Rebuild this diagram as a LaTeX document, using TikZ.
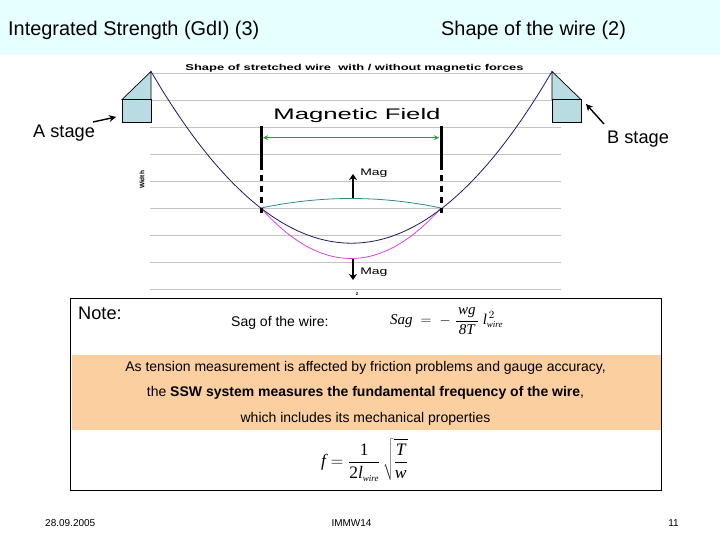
\documentclass[tikz,border=0pt]{standalone}
\usepackage{fontspec}
\setmainfont{Liberation Sans}
\newfontfamily\eqnfont{Liberation Serif}
\usetikzlibrary{arrows.meta,positioning,calc}
\definecolor{headbg}{HTML}{E6FFFF}
\definecolor{stagefill}{HTML}{B9DCE2}
\definecolor{bandbg}{HTML}{FBCF9F}
\definecolor{gridgray}{HTML}{C4C4C4}
\definecolor{wireblue}{HTML}{1F1A66}
\definecolor{wireteal}{HTML}{2E8B8B}
\definecolor{wirepink}{HTML}{E040E0}
\definecolor{fieldgreen}{HTML}{2CA02C}
\newcommand{\eqv}[1]{\hbox{\eqnfont\itshape #1}}
\newcommand{\eqr}[1]{\hbox{\eqnfont #1}}
\newcommand{\eqs}[1]{\hbox{\fontsize{9}{10}\selectfont\eqnfont\itshape #1}}
\tikzset{
  titletext/.style={font=\fontsize{19.9}{22}\selectfont, inner sep=0pt},
  slidetext/.style={font=\fontsize{18.2}{20}\selectfont, inner sep=0pt},
  bodytext/.style={font=\fontsize{14}{16}\selectfont, inner sep=0pt},
  foottext/.style={font=\fontsize{10}{11}\selectfont, inner sep=0pt},
  magtext/.style={font=\fontsize{9.5}{11}\selectfont, inner sep=0pt, xscale=1.47, transform shape},
  stagebox/.style={draw=black, fill=stagefill, line width=0.7pt},
  polebar/.style={line width=3pt},
  forcearrow/.style={-{Stealth[length=6pt,width=8pt]}, line width=2.2pt},
  pointer/.style={-{Stealth[length=7pt,width=7pt]}, line width=1.4pt}
}
\begin{document}
\begin{tikzpicture}[x=1pt, y=-1pt, >={Stealth}]
  \useasboundingbox (0,0) rectangle (720,540);
  \fill[white] (0,0) rectangle (720,540);
  \fill[headbg] (0,0) rectangle (720,55);
  \node[titletext, anchor=west] (titleleft) at (8,30) {Integrated Strength (GdI) (3)};
  \node[titletext, anchor=west] (titleright) at (441,30) {Shape of the wire (2)};
  % plot background
  \foreach \y in {73.3,100.3,...,290}
    \draw[gridgray, line width=0.8pt] (150,\y) -- (561,\y);
  \node[font=\fontsize{8.5}{10}\selectfont\bfseries, inner sep=0pt, xscale=1.52, transform shape] (plottitle) at (354.5,68) {Shape of stretched wire\ \ with / without magnetic forces};
  \node[font=\fontsize{6.5}{8}\selectfont\bfseries, inner sep=0pt, rotate=90] (axisy) at (142,180) {Width};
  \node[font=\fontsize{5}{6}\selectfont\bfseries, inner sep=0pt] (axisz) at (357,294) {z};
  \node[font=\fontsize{15.3}{18}\selectfont, inner sep=0pt, xscale=1.68, transform shape] (fieldlabel) at (357,116) {Magnetic Field};
  % stages at both ends
  \draw[stagebox] (151,71.5) -- (122,99.5) -- (151,99.5) -- cycle;
  \draw[stagebox] (122,99.5) rectangle (151,122.5);
  \draw[stagebox] (552,71.5) -- (581,99.5) -- (552,99.5) -- cycle;
  \draw[stagebox] (552,99.5) rectangle (581,122.5);
  % wire shapes
  \draw[wireteal, line width=0.8pt] plot[smooth, domain=261:441, samples=25] (\x,{198.5+0.00117*(\x-351)*(\x-351)});
  \draw[wirepink, line width=0.8pt] plot[smooth, domain=261:441, samples=25] (\x,{258.5-0.00623*(\x-351)*(\x-351)});
  \draw[wireblue, line width=0.8pt] plot[smooth, domain=151:552, samples=41] (\x,{243.2-0.00428*(\x-351.5)*(\x-351.5)});
  % field limits
  \coordinate (poleAtop) at (261,126);
  \coordinate (poleAmid) at (261,170);
  \coordinate (poleAend) at (261,213);
  \coordinate (poleBtop) at (441,126);
  \coordinate (poleBmid) at (441,170);
  \coordinate (poleBend) at (441,213);
  \draw[polebar] (poleAtop) -- (poleAmid);
  \draw[polebar] (poleBtop) -- (poleBmid);
  \draw[polebar, dash pattern=on 6.5pt off 4.5pt] (poleAmid) ++(0,5) -- (poleAend);
  \draw[polebar, dash pattern=on 6.5pt off 4.5pt] (poleBmid) ++(0,5) -- (poleBend);
  \coordinate (fieldA) at (263,137.7);
  \coordinate (fieldB) at (439,137.7);
  \draw[{Stealth[length=5pt,width=5pt]}-{Stealth[length=5pt,width=5pt]}, fieldgreen, line width=1pt] (fieldA) -- (fieldB);
  % magnetic force
  \coordinate (magupS) at (353,198);
  \coordinate (magupE) at (353,174);
  \coordinate (magdownS) at (353,259);
  \coordinate (magdownE) at (353,280);
  \draw[forcearrow] (magupS) -- (magupE);
  \draw[forcearrow] (magdownS) -- (magdownE);
  \node[magtext, anchor=west] (magup) at (360,173.5) {Mag};
  \node[magtext, anchor=west] (magdown) at (360,272) {Mag};
  % stage labels
  \node[slidetext, anchor=west] (stageA) at (33,133) {A stage};
  \node[slidetext, anchor=west] (stageB) at (607,139) {B stage};
  \coordinate (stageAtip) at (116,117);
  \coordinate (stageAtail) at (93,122);
  \coordinate (stageBtip) at (586,104);
  \coordinate (stageBtail) at (604,124);
  \draw[pointer] (stageAtail) -- (stageAtip);
  \draw[pointer] (stageBtail) -- (stageBtip);
  % note box
  \fill[bandbg] (72,355) rectangle (661,430);
  \draw[black, line width=0.8pt] (70,298) rectangle (661,490);
  \node[slidetext, anchor=west] (notelabel) at (78,313.5) {Note:};
  \node[bodytext, anchor=west] (sagtext) at (231,323) {Sag of the wire:};
  \node[inner sep=0pt, anchor=west, font=\fontsize{15}{18}\selectfont] (sageq) at (390,321) {$\displaystyle\eqv{Sag}\;=\;-\;\frac{\hspace{2pt}\eqv{wg}\hspace{2pt}}{\eqv{8T}}\;\eqv{l}^{\,2}_{\eqs{wire}}$};
  \node[bodytext] (bandone) at (365.5,368) {As tension measurement is affected by friction problems and gauge accuracy,};
  \node[bodytext] (bandtwo) at (365.5,393) {the \textbf{SSW system measures the fundamental frequency of the wire},};
  \node[bodytext] (bandthree) at (365.5,418.5) {which includes its mechanical properties};
  \node[inner sep=0pt, font=\fontsize{17.5}{20}\selectfont] (freqeq) at (364.5,460) {$\displaystyle\eqv{f}=\frac{\eqr{1}}{\eqr{2}\eqv{l}_{\eqs{wire}}}\,\sqrt{\frac{\eqv{T}}{\eqv{w}}}$};
  % footer
  \node[foottext, anchor=west] (footdate) at (45,523.5) {28.09.2005};
  \node[foottext] (footconf) at (351.5,523.5) {IMMW14};
  \node[foottext, anchor=east] (footpage) at (679,523.5) {11};
\end{tikzpicture}
\end{document}
